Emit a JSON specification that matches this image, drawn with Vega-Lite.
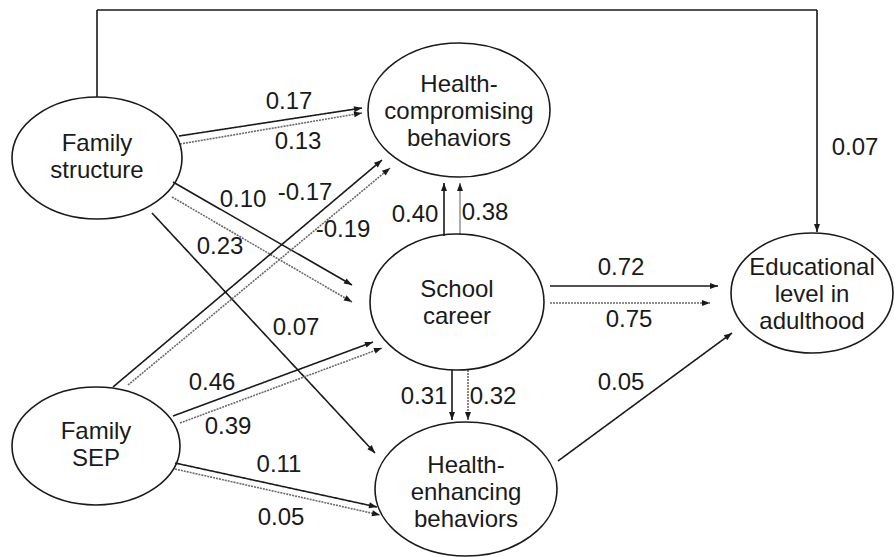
{
  "$schema": "https://vega.github.io/schema/vega-lite/v6.json",
  "width": 895,
  "height": 557,
  "autosize": {"type": "none"},
  "padding": 0,
  "background": "white",
  "view": {"stroke": null},
  "config": {"text": {"font": "Liberation Sans", "fontSize": 24, "color": "#1a1a1a"}},
  "datasets": {
    "nodes": [
      {"node": "Family structure", "text": "Family\nstructure", "x": 97, "y": 158, "ty": 144},
      {"node": "Health-compromising behaviors", "text": "Health-\ncompromising\nbehaviors", "x": 459, "y": 110, "ty": 85},
      {"node": "School career", "text": "School\ncareer", "x": 457, "y": 302, "ty": 290},
      {"node": "Health-enhancing behaviors", "text": "Health-\nenhancing\nbehaviors", "x": 466, "y": 489, "ty": 466},
      {"node": "Family SEP", "text": "Family\nSEP", "x": 96, "y": 446, "ty": 432},
      {"node": "Educational level in adulthood", "text": "Educational\nlevel in\nadulthood", "x": 812, "y": 293, "ty": 268}
    ],
    "edges": [
      {"x": 179, "y": 136, "x2": 362, "y2": 108, "kind": "solid"},
      {"x": 180, "y": 144, "x2": 362, "y2": 113, "kind": "dotted"},
      {"x": 173, "y": 182, "x2": 352, "y2": 285, "kind": "solid"},
      {"x": 172, "y": 197, "x2": 352, "y2": 302, "kind": "dotted"},
      {"x": 152, "y": 213, "x2": 375, "y2": 453, "kind": "solid"},
      {"x": 113, "y": 387, "x2": 382, "y2": 160, "kind": "solid"},
      {"x": 128, "y": 385, "x2": 390, "y2": 168, "kind": "dotted"},
      {"x": 173, "y": 416, "x2": 373, "y2": 342, "kind": "solid"},
      {"x": 180, "y": 423, "x2": 382, "y2": 348, "kind": "dotted"},
      {"x": 175, "y": 463, "x2": 377, "y2": 507, "kind": "solid"},
      {"x": 175, "y": 469, "x2": 380, "y2": 515, "kind": "dotted"},
      {"x": 444, "y": 236, "x2": 444, "y2": 183, "kind": "solid"},
      {"x": 460, "y": 235, "x2": 460, "y2": 183, "kind": "grey"},
      {"x": 452, "y": 370, "x2": 452, "y2": 420, "kind": "solid"},
      {"x": 468, "y": 370, "x2": 468, "y2": 420, "kind": "dotted"},
      {"x": 550, "y": 286, "x2": 718, "y2": 286, "kind": "solid"},
      {"x": 550, "y": 303, "x2": 710, "y2": 303, "kind": "dotted"},
      {"x": 558, "y": 461, "x2": 732, "y2": 333, "kind": "solid"},
      {"x": 97, "y": 97, "x2": 97, "y2": 10, "kind": "solid"},
      {"x": 97, "y": 10, "x2": 817, "y2": 10, "kind": "solid"},
      {"x": 817, "y": 10, "x2": 817, "y2": 232, "kind": "solid"}
    ],
    "heads": [
      {"x": 362, "y": 108, "angle": 81.3},
      {"x": 362, "y": 113, "angle": 80.3},
      {"x": 352, "y": 285, "angle": 119.9},
      {"x": 352, "y": 302, "angle": 120.3},
      {"x": 375, "y": 453, "angle": 137.1},
      {"x": 382, "y": 160, "angle": 49.8},
      {"x": 390, "y": 168, "angle": 50.4},
      {"x": 373, "y": 342, "angle": 69.7},
      {"x": 382, "y": 348, "angle": 69.6},
      {"x": 377, "y": 507, "angle": 102.3},
      {"x": 380, "y": 515, "angle": 102.6},
      {"x": 444, "y": 183, "angle": 0},
      {"x": 460, "y": 183, "angle": 0},
      {"x": 452, "y": 420, "angle": 180},
      {"x": 468, "y": 420, "angle": 180},
      {"x": 718, "y": 286, "angle": 90},
      {"x": 710, "y": 303, "angle": 90},
      {"x": 732, "y": 333, "angle": 53.7},
      {"x": 817, "y": 232, "angle": 180}
    ],
    "coefs": [
      {"label": "0.17", "x": 289, "y": 102},
      {"label": "0.13", "x": 298, "y": 142},
      {"label": "0.10", "x": 243, "y": 200},
      {"label": "-0.17", "x": 305, "y": 193},
      {"label": "-0.19", "x": 343, "y": 230},
      {"label": "0.23", "x": 220, "y": 247},
      {"label": "0.40", "x": 415, "y": 215},
      {"label": "0.38", "x": 485, "y": 213},
      {"label": "0.07", "x": 855, "y": 148},
      {"label": "0.72", "x": 621, "y": 268},
      {"label": "0.75", "x": 629, "y": 320},
      {"label": "0.07", "x": 296, "y": 328},
      {"label": "0.46", "x": 212, "y": 383},
      {"label": "0.39", "x": 228, "y": 427},
      {"label": "0.11", "x": 279, "y": 465},
      {"label": "0.05", "x": 281, "y": 518},
      {"label": "0.31", "x": 424, "y": 397},
      {"label": "0.32", "x": 493, "y": 397},
      {"label": "0.05", "x": 621, "y": 383}
    ]
  },
  "layer": [
    {
      "data": {"name": "edges"},
      "mark": {"type": "rule", "strokeWidth": 1.6},
      "encoding": {
        "x": {"field": "x", "type": "quantitative", "scale": {"domain": [0, 895], "nice": false, "zero": false}, "axis": null},
        "y": {"field": "y", "type": "quantitative", "scale": {"domain": [0, 557], "nice": false, "zero": false, "reverse": true}, "axis": null},
        "x2": {"field": "x2"},
        "y2": {"field": "y2"},
        "color": {"field": "kind", "type": "nominal", "scale": {"domain": ["solid", "dotted", "grey"], "range": ["#1a1a1a", "#6a6a6a", "#9a9a9a"]}, "legend": null},
        "strokeDash": {"field": "kind", "type": "nominal", "scale": {"domain": ["solid", "dotted", "grey"], "range": [[1, 0], [2, 1], [1, 0]]}, "legend": null}
      }
    },
    {
      "data": {"name": "heads"},
      "mark": {"type": "point", "filled": true, "color": "#1a1a1a", "opacity": 1, "size": 4, "shape": "M0,0L3,8L-3,8Z"},
      "encoding": {
        "x": {"field": "x", "type": "quantitative"},
        "y": {"field": "y", "type": "quantitative"},
        "angle": {"field": "angle", "type": "quantitative", "scale": {"domain": [0, 360], "range": [0, 360]}}
      }
    },
    {
      "data": {"name": "nodes"},
      "mark": {"type": "point", "filled": false, "stroke": "#1a1a1a", "strokeWidth": 1.6, "opacity": 1, "size": 4},
      "encoding": {
        "x": {"field": "x", "type": "quantitative"},
        "y": {"field": "y", "type": "quantitative"},
        "shape": {
          "field": "node",
          "type": "nominal",
          "legend": null,
          "scale": {
            "domain": ["Family structure", "Health-compromising behaviors", "School career", "Health-enhancing behaviors", "Family SEP", "Educational level in adulthood"],
            "range": [
              "M-85,0A85,61 0 1,0 85,0A85,61 0 1,0 -85,0Z",
              "M-91,0A91,67 0 1,0 91,0A91,67 0 1,0 -91,0Z",
              "M-87,0A87,68 0 1,0 87,0A87,68 0 1,0 -87,0Z",
              "M-91,0A91,67 0 1,0 91,0A91,67 0 1,0 -91,0Z",
              "M-84,0A84,59 0 1,0 84,0A84,59 0 1,0 -84,0Z",
              "M-81,0A81,60 0 1,0 81,0A81,60 0 1,0 -81,0Z"
            ]
          }
        }
      }
    },
    {
      "data": {"name": "nodes"},
      "mark": {"type": "text", "lineBreak": "\n", "lineHeight": 27, "align": "center", "baseline": "middle"},
      "encoding": {
        "x": {"field": "x", "type": "quantitative"},
        "y": {"field": "ty", "type": "quantitative"},
        "text": {"field": "text"}
      }
    },
    {
      "data": {"name": "coefs"},
      "mark": {"type": "text", "align": "center", "baseline": "middle"},
      "encoding": {
        "x": {"field": "x", "type": "quantitative"},
        "y": {"field": "y", "type": "quantitative"},
        "text": {"field": "label"}
      }
    }
  ]
}
